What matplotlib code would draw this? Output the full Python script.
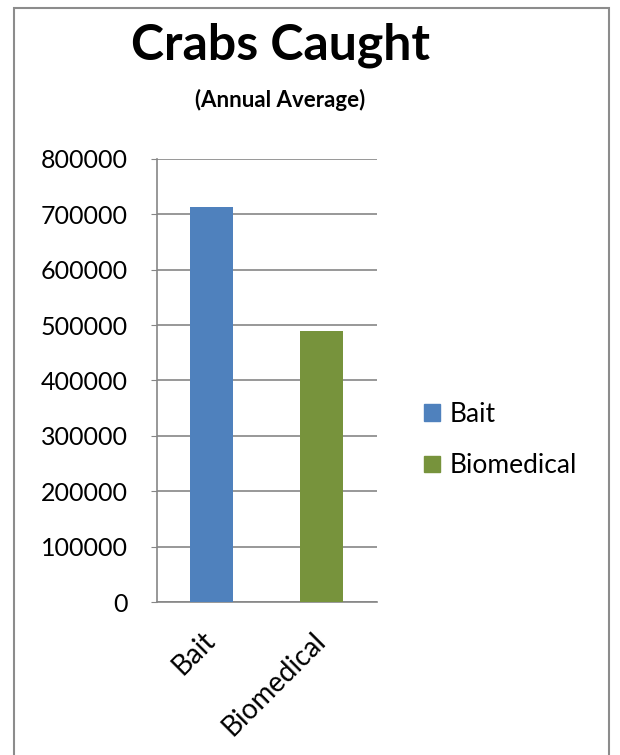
import matplotlib.pyplot as plt
import matplotlib.transforms as mtransforms
from matplotlib.patches import Rectangle, Patch

# data
categories = ['Bait', 'Biomedical']
crabs = [713000, 490000]
colors = ['#4F81BD', '#77933C']
yticks = [0, 100000, 200000, 300000, 400000, 500000, 600000, 700000, 800000]

plt.rcParams['font.family'] = ['Lato', 'DejaVu Sans']

fig = plt.figure(figsize=(6.2, 7.55), dpi=100)
ax = fig.add_axes([0.253, 0.2026, 0.355, 0.587])

x = range(len(categories))
ax.bar(x, crabs, width=0.39, color=colors, zorder=3)

ax.set_xlim(-0.5, 1.5)
ax.set_ylim(0, 800000)
ax.set_yticks(yticks)
ax.set_yticklabels([str(v) for v in yticks], fontsize=18)
ax.set_xticks(list(x))
ax.set_xticklabels(categories, rotation=45, ha='right', rotation_mode='anchor', fontsize=20)
ax.tick_params(axis='x', length=0, pad=18)
ax.tick_params(axis='y', length=4, color='#868686', pad=17)
ax.grid(True, axis='y', color='#868686', linewidth=1.2, zorder=0)

# nudge the rotated category labels a bit left
shift = mtransforms.ScaledTranslation(-10 / 100, 0, fig.dpi_scale_trans)
for lbl in ax.get_xticklabels():
    lbl.set_transform(lbl.get_transform() + shift)

for s in ['top', 'right']:
    ax.spines[s].set_visible(False)
for s in ['left', 'bottom']:
    ax.spines[s].set_color('#868686')
    ax.spines[s].set_linewidth(1.2)

fig.text(0.452, 0.94, 'Crabs Caught', fontsize=36, fontweight='bold', ha='center', va='center')
fig.text(0.452, 0.868, '(Annual Average)', fontsize=16, fontweight='bold', ha='center', va='center')

handles = [Patch(color=c) for c in colors]
fig.legend(handles, categories, loc='center left', bbox_to_anchor=(0.646, 0.417),
           frameon=False, fontsize=19, handlelength=0.6, handleheight=0.6,
           handletextpad=0.35, labelspacing=1.0)

# outer border
fig.patches.append(Rectangle((0.022, -0.02), 0.96, 1.009, transform=fig.transFigure,
                             fill=False, edgecolor='#8c8c8c', linewidth=1.5))

fig.savefig('out.png', dpi=100)
